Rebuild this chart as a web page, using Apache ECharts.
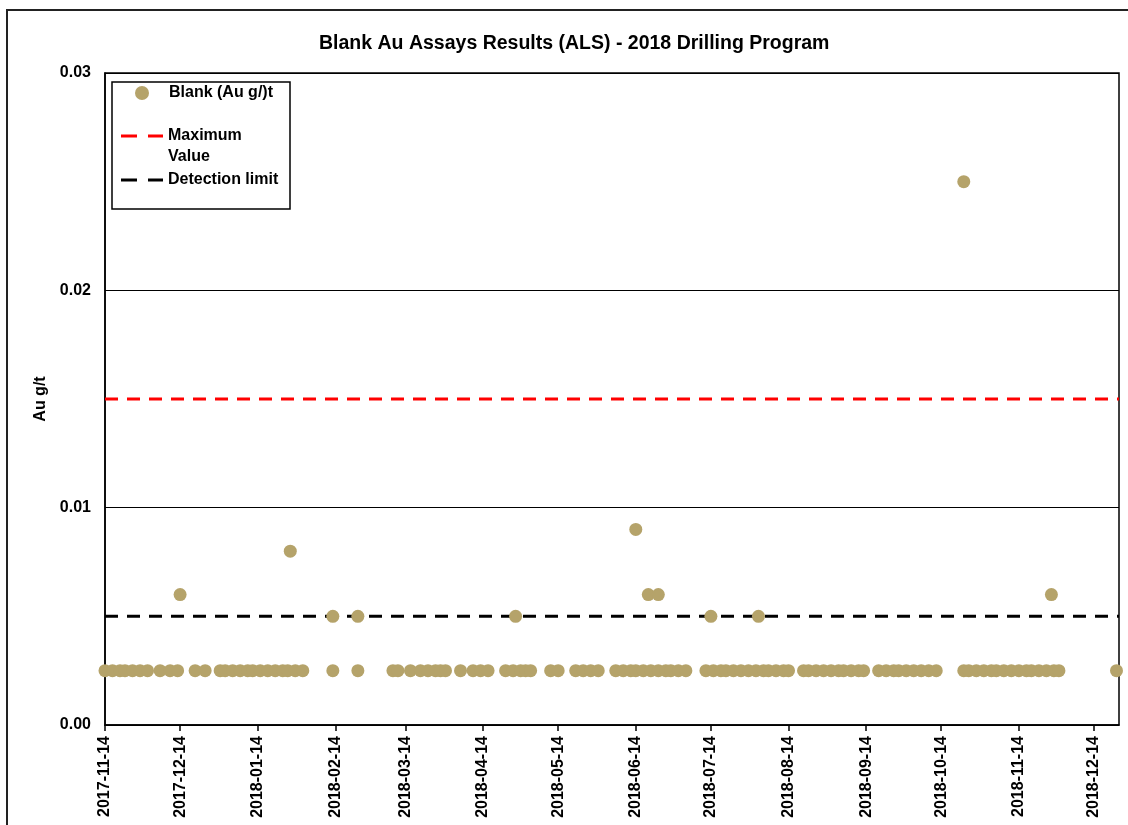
<!DOCTYPE html>
<html>
<head>
<meta charset="utf-8">
<script src="https://cdn.jsdelivr.net/npm/echarts@6/dist/echarts.min.js"></script>
<style>
  html, body { margin: 0; padding: 0; background: #fff; }
  #chart { width: 1128px; height: 825px; }
</style>
</head>
<body>
<div id="chart"></div>
<script>
// blanks below detection limit, plotted at half the limit
const lowDates = [
  "2017-11-14", "2017-11-17", "2017-11-20", "2017-11-22", "2017-11-25", "2017-11-28", "2017-12-01",
  "2017-12-06", "2017-12-10", "2017-12-13", "2017-12-20", "2017-12-24", "2017-12-30",
  "2018-01-01", "2018-01-04", "2018-01-07", "2018-01-10", "2018-01-12", "2018-01-15", "2018-01-18",
  "2018-01-21", "2018-01-24", "2018-01-26", "2018-01-29", "2018-02-01", "2018-02-13", "2018-02-23",
  "2018-03-09", "2018-03-11", "2018-03-16", "2018-03-20", "2018-03-23", "2018-03-26", "2018-03-28",
  "2018-03-30", "2018-04-05", "2018-04-10", "2018-04-13", "2018-04-16", "2018-04-23", "2018-04-26",
  "2018-04-29", "2018-05-01", "2018-05-03", "2018-05-11", "2018-05-14", "2018-05-21", "2018-05-24",
  "2018-05-27", "2018-05-30", "2018-06-06", "2018-06-09", "2018-06-12", "2018-06-14", "2018-06-17",
  "2018-06-20", "2018-06-23", "2018-06-26", "2018-06-28", "2018-07-01", "2018-07-04", "2018-07-12",
  "2018-07-15", "2018-07-18", "2018-07-20", "2018-07-23", "2018-07-26", "2018-07-29", "2018-08-01",
  "2018-08-04", "2018-08-06", "2018-08-09", "2018-08-12", "2018-08-14", "2018-08-20", "2018-08-22",
  "2018-08-25", "2018-08-28", "2018-08-31", "2018-09-03", "2018-09-05", "2018-09-08", "2018-09-11",
  "2018-09-13", "2018-09-19", "2018-09-22", "2018-09-25", "2018-09-27", "2018-09-30", "2018-10-03",
  "2018-10-06", "2018-10-09", "2018-10-12", "2018-10-23", "2018-10-25", "2018-10-28", "2018-10-31",
  "2018-11-03", "2018-11-05", "2018-11-08", "2018-11-11", "2018-11-14", "2018-11-17", "2018-11-19",
  "2018-11-22", "2018-11-25", "2018-11-28", "2018-11-30", "2018-12-23"
];
const lowValue = 0.0025;

// blanks with a reported value
const hitDates = [
  "2017-12-14", "2018-01-27", "2018-02-13", "2018-02-23", "2018-04-27", "2018-06-14",
  "2018-06-19", "2018-06-23", "2018-07-14", "2018-08-02", "2018-10-23", "2018-11-27"
];
const hitValues = [0.006, 0.008, 0.005, 0.005, 0.005, 0.009, 0.006, 0.006, 0.005, 0.005, 0.025, 0.006];

const maxValue = 0.015;
const detectionLimit = 0.005;

const tickDates = [
  "2017-11-14", "2017-12-14", "2018-01-14", "2018-02-14", "2018-03-14", "2018-04-14", "2018-05-14",
  "2018-06-14", "2018-07-14", "2018-08-14", "2018-09-14", "2018-10-14", "2018-11-14", "2018-12-14"
];
const xMin = "2017-11-14";
const xMax = "2018-12-24";

const t = (s) => Date.parse(s); // date-only strings -> UTC
const pad = (n) => (n < 10 ? "0" + n : "" + n);
function fmtDate(v) {
  const d = new Date(v);
  return d.getUTCFullYear() + "-" + pad(d.getUTCMonth() + 1) + "-" + pad(d.getUTCDate());
}

const blankData = lowDates.map((d) => [t(d), lowValue])
  .concat(hitDates.map((d, i) => [t(d), hitValues[i]]));

const font = "'Liberation Sans', Arial, sans-serif";
const gold = "#b5a36a";

// dashed legend icons (two dashes, the tiny end points just fix the icon box)
const dashIcon14 = "path://M0,0L0.01,0Z M0,5.5H16V8.5H0Z M27,5.5H42V8.5H27Z M0,14L0.01,14Z";
const dashIcon40 = "path://M0,0L0.01,0Z M0,8.5H16V11.5H0Z M27,8.5H42V11.5H27Z M0,40L0.01,40Z";

const myChart = echarts.init(document.getElementById("chart"), null, { renderer: "canvas" });

const option = {
  backgroundColor: "#fff",
  animation: false,
  title: {
    text: "Blank Au Assays Results (ALS) - 2018 Drilling Program",
    left: 314,
    top: 29,
    textStyle: { fontFamily: font, fontSize: 19.5, fontWeight: "bold", color: "#000" },
  },
  graphic: [
    {
      type: "rect",
      shape: { x: 7, y: 10, width: 1140, height: 840 },
      style: { fill: "none", stroke: "#222", lineWidth: 2 },
      silent: true,
    },
    {
      type: "rect",
      shape: { x: 112, y: 82, width: 178, height: 127 },
      style: { fill: "#fff", stroke: "#000", lineWidth: 1.5 },
      z: 5,
      silent: true,
    },
  ],
  legend: [
    {
      data: [{ name: "Blank (Au g/)t", icon: "circle" }],
      left: 135, top: 85, padding: 0,
      itemWidth: 14, itemHeight: 14,
      textStyle: { fontFamily: font, fontSize: 16, fontWeight: "bold", color: "#000", padding: [0, 0, 0, 15] },
      z: 10,
    },
    {
      data: [{ name: "Maximum Value", icon: dashIcon40 }],
      left: 121, top: 125, padding: 0,
      itemWidth: 42, itemHeight: 40,
      formatter: () => "Maximum\nValue",
      textStyle: { fontFamily: font, fontSize: 16, fontWeight: "bold", color: "#000", lineHeight: 21 },
      z: 10,
    },
    {
      data: [{ name: "Detection limit", icon: dashIcon14 }],
      left: 121, top: 172, padding: 0,
      itemWidth: 42, itemHeight: 14,
      textStyle: { fontFamily: font, fontSize: 16, fontWeight: "bold", color: "#000" },
      z: 10,
    },
  ],
  grid: {
    left: 105, top: 73, right: 9, bottom: 100,
    show: true, borderColor: "#000", borderWidth: 1.5,
  },
  xAxis: {
    type: "value",
    min: t(xMin),
    max: t(xMax),
    splitLine: { show: false },
    axisLine: { show: true, lineStyle: { color: "#000", width: 1.5 } },
    axisTick: {
      show: true, inside: false, length: 6,
      customValues: tickDates.map(t),
      lineStyle: { color: "#000", width: 1.5 },
    },
    axisLabel: {
      rotate: 90,
      margin: 11,
      customValues: tickDates.map(t),
      formatter: (v) => fmtDate(v),
      fontFamily: font, fontSize: 16, fontWeight: "bold", color: "#000",
    },
  },
  yAxis: {
    type: "value",
    min: 0, max: 0.03, interval: 0.01,
    name: "Au g/t",
    nameLocation: "middle",
    nameRotate: 90,
    nameGap: 48,
    nameTextStyle: { fontFamily: font, fontSize: 16, fontWeight: "bold", color: "#000" },
    axisLine: { show: true, lineStyle: { color: "#000", width: 1.5 } },
    axisTick: { show: false },
    splitLine: { show: true, lineStyle: { color: "#000", width: 1 } },
    axisLabel: {
      margin: 14,
      formatter: (v) => v.toFixed(2),
      fontFamily: font, fontSize: 16, fontWeight: "bold", color: "#000",
    },
  },
  series: [
    {
      name: "Maximum Value",
      type: "line",
      data: [[t(xMin), maxValue], [t(xMax), maxValue]],
      symbol: "none",
      lineStyle: { color: "#ff0000", width: 3, type: [13, 9] },
      itemStyle: { color: "#ff0000" },
      z: 2,
    },
    {
      name: "Detection limit",
      type: "line",
      data: [[t(xMin), detectionLimit], [t(xMax), detectionLimit]],
      symbol: "none",
      lineStyle: { color: "#000", width: 3, type: [13, 9] },
      itemStyle: { color: "#000" },
      z: 2,
    },
    {
      name: "Blank (Au g/)t",
      type: "scatter",
      data: blankData,
      symbolSize: 13,
      clip: false,
      itemStyle: { color: gold, opacity: 1 },
      z: 3,
    },
  ],
};

myChart.setOption(option);

window.addEventListener("resize", () => {
  myChart.resize();
});
</script>
</body>
</html>
